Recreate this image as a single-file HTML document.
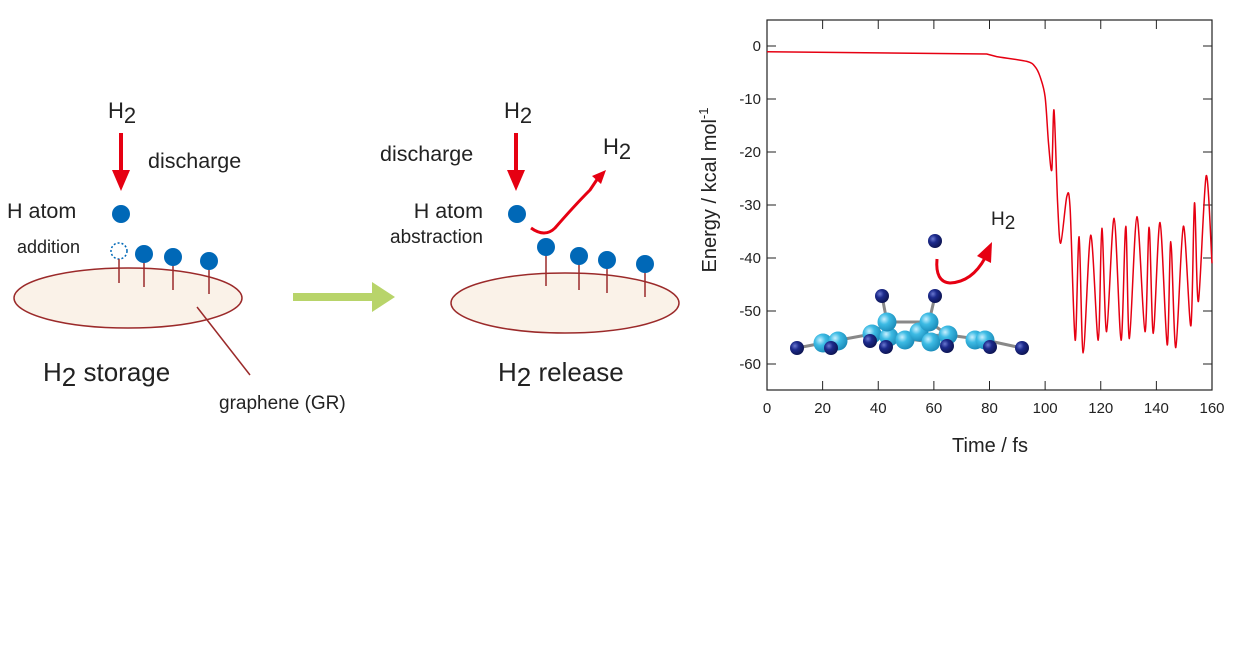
<!DOCTYPE html>
<html><head><meta charset="utf-8"><style>
body{margin:0;background:#fff;}
svg{display:block;font-family:"Liberation Sans",sans-serif;}
</style></head><body>
<svg width="1251" height="648" viewBox="0 0 1251 648">
<defs>
<radialGradient id="cg" cx="0.35" cy="0.35" r="0.7"><stop offset="0" stop-color="#c8f0ff"/><stop offset="0.4" stop-color="#3dbbe4"/><stop offset="1" stop-color="#1a8ab8"/></radialGradient>
<radialGradient id="hg" cx="0.35" cy="0.35" r="0.7"><stop offset="0" stop-color="#6a78d0"/><stop offset="0.4" stop-color="#1c2a8c"/><stop offset="1" stop-color="#0d1450"/></radialGradient>
</defs>

<g>
<text x="108" y="118" font-size="22" fill="#222">H<tspan dy="5">2</tspan></text>
<line x1="121" y1="133" x2="121" y2="172" stroke="#e60012" stroke-width="4"/>
<path d="M112,170 L130,170 L121,191 z" fill="#e60012"/>
<text x="148" y="168" font-size="21.5" fill="#222">discharge</text>
<text x="7" y="218" font-size="21.5" fill="#222">H atom</text>
<circle cx="121" cy="214" r="9" fill="#0068b7"/>
<text x="17" y="253" font-size="18" fill="#222">addition</text>
<ellipse cx="128" cy="298" rx="114" ry="30" fill="#faf2e8" stroke="#9b2a2a" stroke-width="1.5"/>
<circle cx="119" cy="251" r="8" fill="none" stroke="#0068b7" stroke-width="1.5" stroke-dasharray="2,2"/>
<line x1="119" y1="259" x2="119" y2="283" stroke="#9b2a2a" stroke-width="1.5"/>
<line x1="144" y1="254" x2="144" y2="287" stroke="#9b2a2a" stroke-width="1.5"/>
<line x1="173" y1="257" x2="173" y2="290" stroke="#9b2a2a" stroke-width="1.5"/>
<line x1="209" y1="261" x2="209" y2="294" stroke="#9b2a2a" stroke-width="1.5"/>
<circle cx="144" cy="254" r="9" fill="#0068b7"/>
<circle cx="173" cy="257" r="9" fill="#0068b7"/>
<circle cx="209" cy="261" r="9" fill="#0068b7"/>
<line x1="197" y1="307" x2="250" y2="375" stroke="#9b2a2a" stroke-width="1.5"/>
<text x="43" y="381" font-size="26" fill="#222">H<tspan dy="5">2</tspan><tspan dy="-5"> storage</tspan></text>
<text x="219" y="409" font-size="19" fill="#222">graphene (GR)</text>
</g>

<g>
<rect x="293" y="293" width="80" height="8" fill="#b8d46a"/>
<path d="M372,282 L395,297 L372,312 z" fill="#b8d46a"/>
</g>

<g>
<text x="504" y="118" font-size="22" fill="#222">H<tspan dy="5">2</tspan></text>
<line x1="516" y1="133" x2="516" y2="172" stroke="#e60012" stroke-width="4"/>
<path d="M507,170 L525,170 L516,191 z" fill="#e60012"/>
<text x="380" y="161" font-size="21.5" fill="#222">discharge</text>
<text x="603" y="154" font-size="22" fill="#222">H<tspan dy="5">2</tspan></text>
<path d="M531,228 Q545,238 555,228 Q575,205 590,190 L598,178" fill="none" stroke="#e60012" stroke-width="3"/>
<path d="M592,176 L606,170 L601,184 z" fill="#e60012"/>
<text x="483" y="218" font-size="21.5" fill="#222" text-anchor="end">H atom</text>
<text x="390" y="243" font-size="19" fill="#222">abstraction</text>
<circle cx="517" cy="214" r="9" fill="#0068b7"/>
<ellipse cx="565" cy="303" rx="114" ry="30" fill="#faf2e8" stroke="#9b2a2a" stroke-width="1.5"/>
<line x1="546" y1="247" x2="546" y2="286" stroke="#9b2a2a" stroke-width="1.5"/>
<line x1="579" y1="256" x2="579" y2="290" stroke="#9b2a2a" stroke-width="1.5"/>
<line x1="607" y1="260" x2="607" y2="293" stroke="#9b2a2a" stroke-width="1.5"/>
<line x1="645" y1="264" x2="645" y2="297" stroke="#9b2a2a" stroke-width="1.5"/>
<circle cx="546" cy="247" r="9" fill="#0068b7"/>
<circle cx="579" cy="256" r="9" fill="#0068b7"/>
<circle cx="607" cy="260" r="9" fill="#0068b7"/>
<circle cx="645" cy="264" r="9" fill="#0068b7"/>
<text x="498" y="381" font-size="26" fill="#222">H<tspan dy="5">2</tspan><tspan dy="-5"> release</tspan></text>
</g>

<g id="chart"></g>
<g id="mol"></g>
<text x="991" y="225" font-size="19" fill="#222">H<tspan dy="4">2</tspan></text>
<path d="M937,259 Q935,282 950,283 Q972,282 985,258" fill="none" stroke="#e60012" stroke-width="3"/>
<path d="M977,256 L992,242 L991,263 z" fill="#e60012"/>
</svg>
<script>
const times=[0,79,82.6,93.4,96.4,98.2,100,101.2,102.4,103.2,104.5,105.6,107.8,109,110.8,112.2,113.7,116.4,119.1,120.4,122.1,124.8,127.3,129,130.3,133,135.9,137.4,138.9,141.3,143.9,145.2,147,149.7,152.4,153.7,155.1,157.9,160];
const energy=[-1.07,-1.5,-2.0,-2.9,-3.9,-5.8,-9.6,-18.3,-23.4,-12.1,-29.6,-37.2,-28.4,-30.9,-55.5,-36,-57.9,-35.7,-55.5,-34.4,-53.9,-32.5,-55.5,-34,-55.2,-32.2,-53.9,-34.2,-54.2,-33.3,-56.4,-36.9,-56.9,-34,-52.8,-29.6,-48.2,-24.5,-41];
const xTicks=[0,20,40,60,80,100,120,140,160];
const yTicks=[0,-10,-20,-30,-40,-50,-60];
const NS="http://www.w3.org/2000/svg";
const L=767,R=1212,T=20,B=390;
const xs=t=>L+(t-0)/160*(R-L);
const ys=v=>46+(0-v)/60*318;
const g=document.getElementById('chart');
function mk(tag,attrs,parent){const e=document.createElementNS(NS,tag);for(const k in attrs)e.setAttribute(k,attrs[k]);(parent||g).appendChild(e);return e;}
const frame=mk('rect',{x:L,y:T,width:R-L,height:B-T,fill:'none',stroke:'#222','stroke-width':1.2});


xTicks.forEach(t=>{
 mk('line',{x1:xs(t),x2:xs(t),y1:B,y2:B-9,stroke:'#222'});
 mk('line',{x1:xs(t),x2:xs(t),y1:T,y2:T+9,stroke:'#222'});
 const tx=mk('text',{x:xs(t),y:B+23,'font-size':15,'text-anchor':'middle',fill:'#222'});
 tx.textContent=t;
 
 
});
yTicks.forEach(v=>{
 mk('line',{x1:L,x2:L+9,y1:ys(v),y2:ys(v),stroke:'#222'});
 mk('line',{x1:R,x2:R-9,y1:ys(v),y2:ys(v),stroke:'#222'});
 const tx=mk('text',{x:L-6,y:ys(v)+5,'font-size':15,'text-anchor':'end',fill:'#222'});
 tx.textContent=v;
 
 
});
const xt=mk('text',{x:990,y:452,'font-size':20,'text-anchor':'middle',fill:'#222'});
xt.textContent='Time / fs';


const yt=mk('text',{x:0,y:0,'font-size':20,'text-anchor':'middle',fill:'#222',transform:'translate(716,190) rotate(-90)'});
yt.innerHTML='Energy / kcal mol<tspan font-size="13" dy="-8">-1</tspan>';


const P=times.map((t,i)=>[xs(t),ys(energy[i])]);
let d='M'+P[0][0].toFixed(1)+','+P[0][1].toFixed(1);
for(let i=0;i<P.length-1;i++){
 const p1=P[i],p2=P[i+1];
 if(i<2){d+='L'+p2[0].toFixed(1)+','+p2[1].toFixed(1);continue;}
 const p0=P[i-1],p3=P[Math.min(P.length-1,i+2)];
 const k=0.15;
 const c1=[p1[0]+(p2[0]-p0[0])*k,p1[1]+(p2[1]-p0[1])*k];
 const c2=[p2[0]-(p3[0]-p1[0])*k,p2[1]-(p3[1]-p1[1])*k];
 d+='C'+c1[0].toFixed(1)+','+c1[1].toFixed(1)+' '+c2[0].toFixed(1)+','+c2[1].toFixed(1)+' '+p2[0].toFixed(1)+','+p2[1].toFixed(1);
}
const ln=mk('path',{d:d,fill:'none',stroke:'#e60012','stroke-width':1.5,'stroke-linejoin':'round'});


const m=document.getElementById('mol');
const bonds=[[797,348,823,343],[823,343,872,334],[872,334,887,322],[887,322,929,322],[929,322,948,335],[948,335,985,340],[985,340,1022,348],[887,322,882,296],[929,322,935,296],[872,334,931,342],[889,337,948,335]];
bonds.forEach(b=>mk('line',{x1:b[0],y1:b[1],x2:b[2],y2:b[3],stroke:'#888','stroke-width':3},m));
const C=[[823,343],[838,341],[872,334],[889,337],[905,340],[919,332],[931,342],[948,335],[887,322],[929,322],[975,340],[985,340]];
const H=[[797,348],[831,348],[886,347],[947,346],[1022,348],[882,296],[935,296],[935,241],[870,341],[990,347]];
C.forEach(p=>mk('circle',{cx:p[0],cy:p[1],r:9.5,fill:'url(#cg)'},m));
H.forEach(p=>mk('circle',{cx:p[0],cy:p[1],r:7,fill:'url(#hg)'},m));
</script>
</body></html>
